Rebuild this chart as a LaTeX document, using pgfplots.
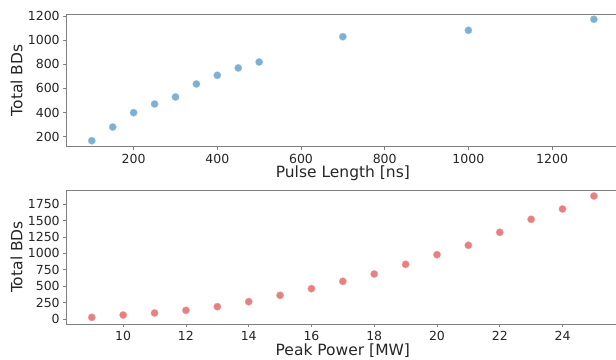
\documentclass[border=0pt]{standalone}
\usepackage{fontspec}
\setmainfont{DejaVu Sans}
\usepackage{pgfplots}
\pgfplotsset{compat=1.18}
\definecolor{ptblue}{RGB}{125,176,213}
\definecolor{ptred}{RGB}{231,128,129}
\definecolor{spine}{RGB}{128,128,128}
\definecolor{txt}{RGB}{38,38,38}
\pgfplotsset{
  myax/.style={
    scale only axis,
    width=552.3pt,
    anchor=south west,
    axis line style={spine, line width=0.9pt},
    tick style={spine, line width=0.8pt},
    tick align=outside,
    major tick length=3.5pt,
    xtick pos=bottom, ytick pos=left,
    /pgf/number format/assume math mode=true,
    /pgf/number format/1000 sep={},
    tick label style={font=\fontsize{12.5}{14}\selectfont, text=txt},
    every axis y label/.style={at={(axis description cs:-0.0905,0.5)}, rotate=90, anchor=center, font=\fontsize{15.5}{18}\selectfont, text=txt},
    only marks,
    clip=false,
  }
}
\begin{document}
\begin{tikzpicture}[x=1pt,y=1pt]
\useasboundingbox (0,0) rectangle (616,359);
\begin{axis}[myax,
  at={(66.7pt,212.3pt)}, height=132.7pt,
  xmin=40, xmax=1360, ymin=117, ymax=1217,
  xtick={200,400,600,800,1000,1200},
  ytick={200,400,600,800,1000,1200},
  every axis x label/.style={at={(axis description cs:0.5,-0.198)}, anchor=center, font=\fontsize{15.5}{18}\selectfont, text=txt},
  xlabel={Pulse Length [ns]}, ylabel={Total BDs}]
\addplot[mark=*, mark size=3.7pt, draw=none, mark options={fill=ptblue, draw=ptblue!70!white, line width=0.3pt}] coordinates {
(100,167) (150,280) (200,399) (250,471) (300,529) (350,637) (400,709) (450,770) (500,819) (700,1029) (1000,1082) (1300,1173)};
\end{axis}
\begin{axis}[myax,
  at={(66.7pt,35pt)}, height=134pt,
  xmin=8.2, xmax=25.8, ymin=-71, ymax=1962,
  xtick={10,12,14,16,18,20,22,24},
  ytick={0,250,500,750,1000,1250,1500,1750},
  every axis x label/.style={at={(axis description cs:0.5,-0.199)}, anchor=center, font=\fontsize{15.5}{18}\selectfont, text=txt},
  xlabel={Peak Power [MW]}, ylabel={Total BDs}]
\addplot[mark=*, mark size=3.7pt, draw=none, mark options={fill=ptred, draw=ptred!70!white, line width=0.3pt}] coordinates {
(9,30) (10,65) (11,96) (12,136) (13,192) (14,268) (15,364) (16,465) (17,576) (18,687) (19,834) (20,981) (21,1123) (22,1320) (23,1517) (24,1674) (25,1871)};
\end{axis}
\end{tikzpicture}
\end{document}
